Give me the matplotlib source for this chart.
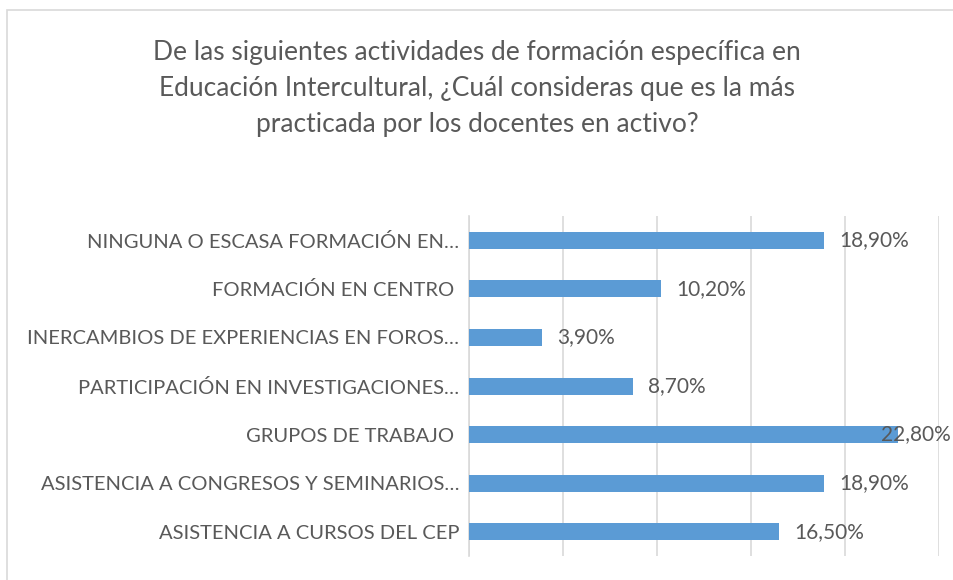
import matplotlib.pyplot as plt
from matplotlib.patches import Rectangle

# Datos (de arriba a abajo)
categorias = [
    'NINGUNA O ESCASA FORMACIÓN EN…',
    'FORMACIÓN EN CENTRO ',
    'INERCAMBIOS DE EXPERIENCIAS EN FOROS…',
    'PARTICIPACIÓN EN INVESTIGACIONES…',
    'GRUPOS DE TRABAJO ',
    'ASISTENCIA A CONGRESOS Y SEMINARIOS…',
    'ASISTENCIA A CURSOS DEL CEP',
]
valores = [18.9, 10.2, 3.9, 8.7, 22.8, 18.9, 16.5]
etiquetas = ['18,90%', '10,20%', '3,90%', '8,70%', '22,80%', '18,90%', '16,50%']

titulo = ('De las siguientes actividades de formación específica en\n'
          'Educación Intercultural, ¿Cuál consideras que es la más\n'
          'practicada por los docentes en activo?')

gris = '#595959'
azul = '#5B9BD5'
plt.rcParams['font.family'] = ['Lato', 'DejaVu Sans']

fig = plt.figure(figsize=(9.54, 5.80), dpi=100)

# marco del grafico (recortado a la derecha y abajo)
fig.patches.append(Rectangle((7 / 954, -0.1), 1.2, 1.1 - 10 / 580, transform=fig.transFigure,
                             fill=False, edgecolor='#D9D9D9', linewidth=1.2))

fig.text(0.5, 1 - 40 / 580, titulo, ha='center', va='top', fontsize=19,
         color=gris, linespacing=1.55)

ax = fig.add_axes([469 / 954, 1 - 556 / 580, 470 / 954, 340 / 580])
y = list(range(len(categorias)))
ax.barh(y, valores, height=0.35, color=azul, zorder=3)
ax.set_xlim(0, 25)
ax.set_ylim(len(categorias) - 0.5, -0.5)
ax.set_xticks([0, 5, 10, 15, 20, 25])
ax.set_xticklabels([])
ax.tick_params(axis='x', length=0)
ax.tick_params(axis='y', length=0, pad=7)
ax.set_yticks(y)
ax.set_yticklabels(categorias, fontsize=14.5, color=gris)
ax.grid(axis='x', color='#D9D9D9', linewidth=1.2, zorder=0)
for s in ['top', 'right', 'bottom']:
    ax.spines[s].set_visible(False)
ax.spines['left'].set_color('#D9D9D9')
ax.spines['left'].set_linewidth(1.2)

# la etiqueta mas larga se solapa con la barra para no salirse del borde
for yi, v, t in zip(y, valores, etiquetas):
    ax.text(min(v + 0.8, 21.9), yi, t, va='center', ha='left', fontsize=15,
            color=gris, zorder=4, clip_on=False)

fig.savefig('out.png', dpi=100)
